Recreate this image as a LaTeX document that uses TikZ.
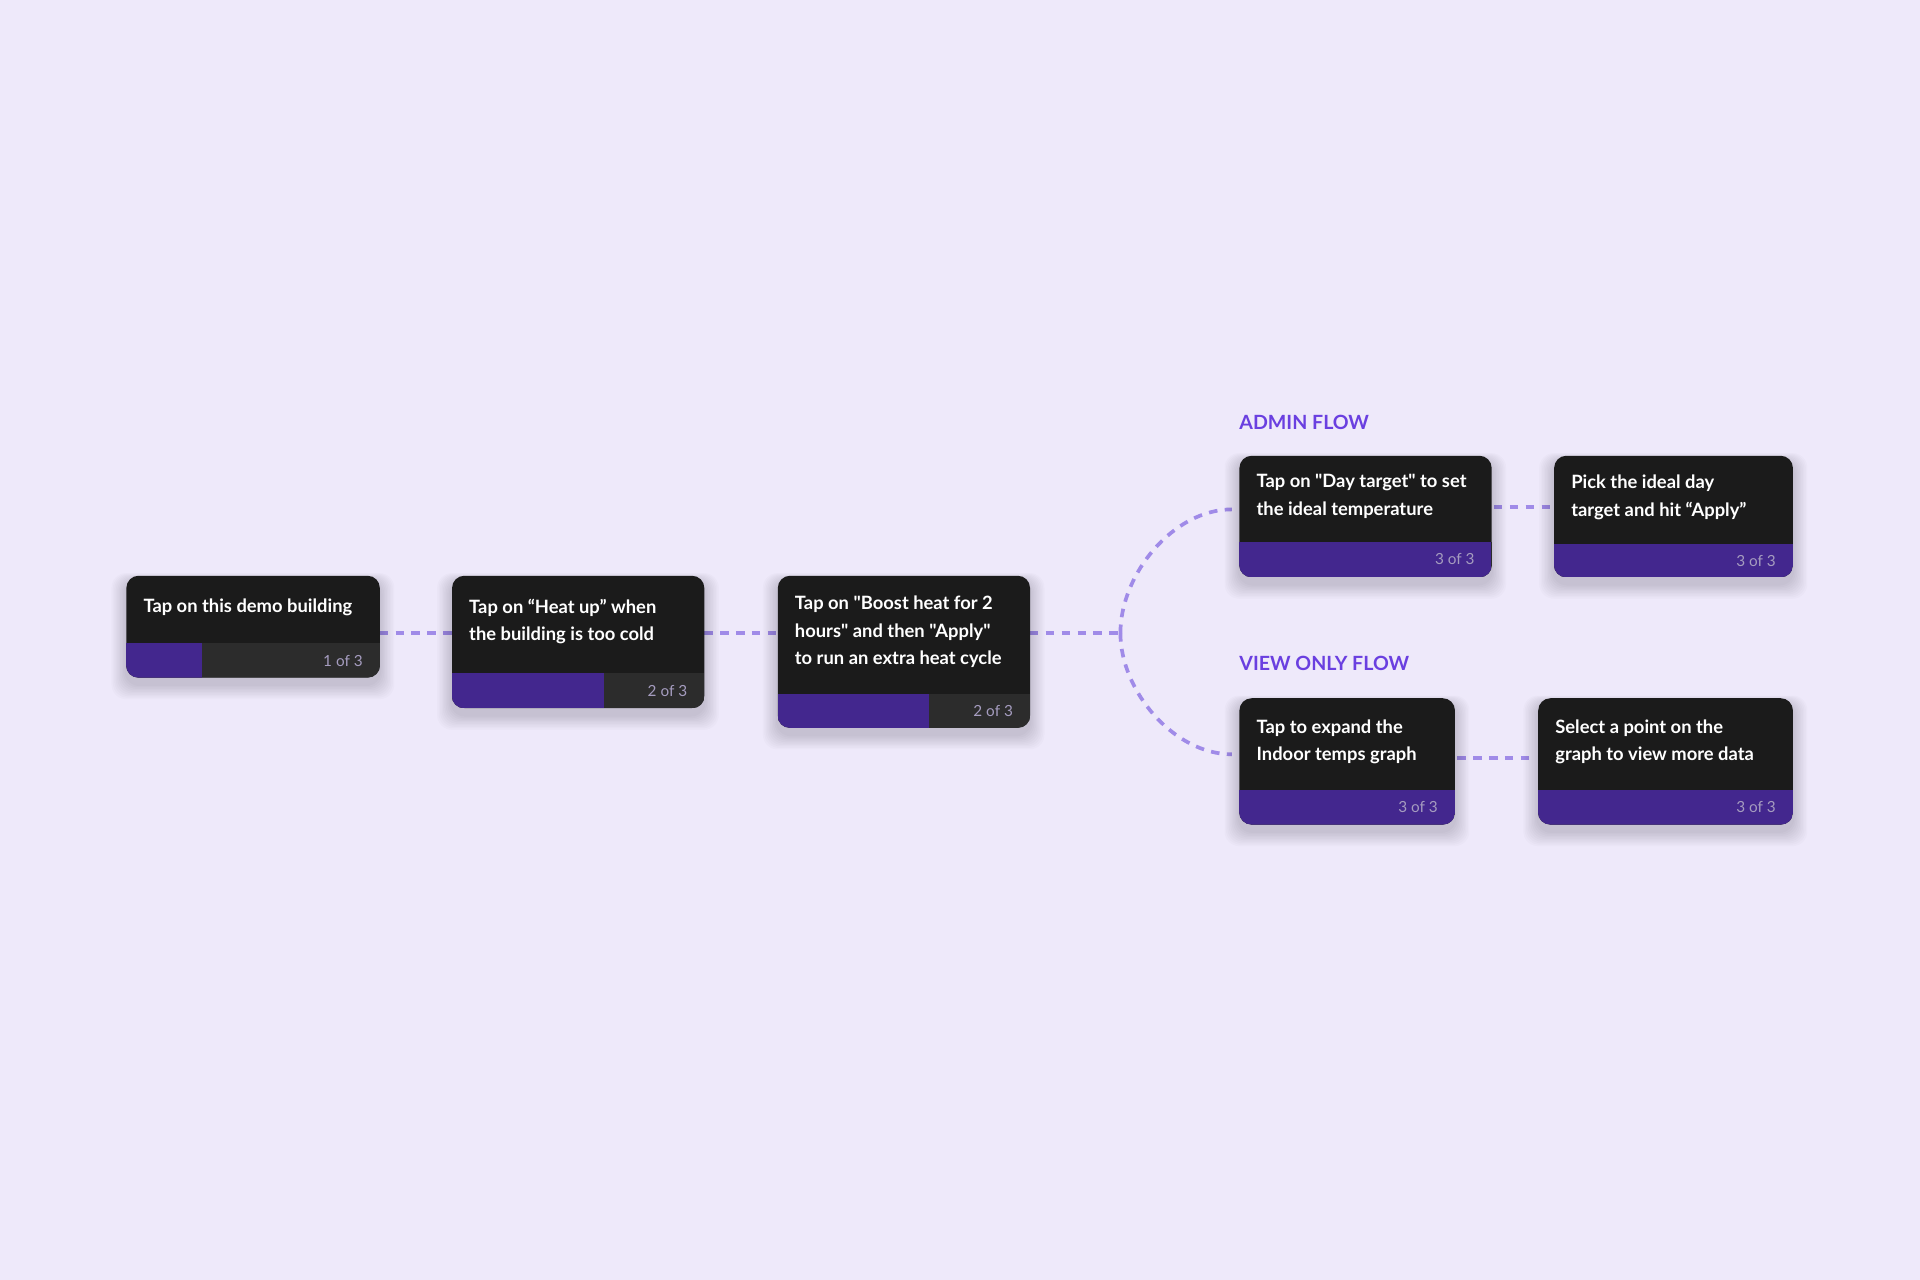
\documentclass[tikz,border=0pt]{standalone}
\usepackage{fontspec}
\setmainfont{Lato}[Ligatures=TeXOff]
\usetikzlibrary{calc}
\definecolor{bgc}{HTML}{EEE9FA}
\definecolor{cardc}{HTML}{1B1B1B}
\definecolor{barc}{HTML}{2C2C2C}
\definecolor{purc}{HTML}{43278E}
\definecolor{linkc}{HTML}{A08BE8}
\definecolor{headc}{HTML}{6A3FE0}
\definecolor{countc}{HTML}{A59CBF}
\tikzset{
  card/.style={fill=cardc, rounded corners=10pt, inner sep=0pt, anchor=north west},
  cardtext/.style={text=white, align=left, anchor=west, inner sep=0pt, font=\fontsize{15}{22.5}\selectfont\bfseries},
  count/.style={text=countc, anchor=east, inner sep=0pt, font=\fontsize{12.5}{14}\selectfont},
  link/.style={draw=linkc, line width=3pt, dash pattern=on 7pt off 6pt},
  flow/.style={text=headc, anchor=west, inner sep=0pt, font=\fontsize{16}{18}\selectfont\bfseries}
}
% name, x, y, width, height, bar height, purple width, text, count
\newcommand\card[9]{
  \foreach \i in {1,...,10}
    \fill[black, opacity=0.015, rounded corners=12pt]
      (#2-\i*1.2, #3+4-\i*0.6) rectangle (#2+#4+\i*1.2, #3+#5+6+\i*1.2);
  \node[card, minimum width=#4pt, minimum height=#5pt] (#1) at (#2,#3) {};
  \begin{scope}
    \clip[rounded corners=10pt] (#1.north west) rectangle (#1.south east);
    \fill[barc] (#1.south west) rectangle ([yshift=#6pt]#1.south east);
    \fill[purc] (#1.south west) rectangle ([xshift=#7pt, yshift=#6pt]#1.south west);
  \end{scope}
  \node[cardtext] (#1t) at ($(#1.north west)!0.5!([yshift=#6pt]#1.south west)+(14pt,2pt)$) {#8};
  \node[count] (#1n) at ([xshift=-14pt, yshift=#6pt/2]#1.south east) {#9};
}
\begin{document}
\begin{tikzpicture}[x=1pt, y=-1pt]
\fill[bgc] (0,0) rectangle (1568,1045);
\useasboundingbox (0,0) rectangle (1568,1045);
\coordinate (fork) at (915,517);
\node[flow] (admin) at (1012,345) {ADMIN FLOW};
\node[flow] (view) at (1012,542) {VIEW ONLY FLOW};
% links first, cards cover them
\draw[link] (310,517) -- (369,517);
\draw[link] (575,517) -- (635,517);
\draw[link] (841,517) -- (fork);
\draw[link] (fork) to[out=90, in=180, looseness=0.9] (1006,416);
\draw[link] (fork) to[out=-90, in=180, looseness=0.9] (1006,616);
\draw[link] (1220,414) -- (1266,414);
\draw[link] (1190,619) -- (1254,619);
\card{c1}{103}{470}{207}{83}{28}{62}{Tap on this demo building}{1 of 3}
\card{c2}{369}{470}{206}{108}{29}{124}{Tap on “Heat up” when\\the building is too cold}{2 of 3}
\card{c3}{635}{470}{206}{124}{28}{124}{Tap on "Boost heat for 2\\hours" and then "Apply"\\to run an extra heat cycle}{2 of 3}
\card{a1}{1012}{372}{206}{99}{29}{206}{Tap on "Day target" to set\\the ideal temperature}{3 of 3}
\card{a2}{1269}{372}{195}{99}{27}{195}{Pick the ideal day\\target and hit “Apply”}{3 of 3}
\card{v1}{1012}{570}{176}{103}{28}{176}{Tap to expand the\\Indoor temps graph}{3 of 3}
\card{v2}{1256}{570}{208}{103}{28}{208}{Select a point on the\\graph to view more data}{3 of 3}
\end{tikzpicture}
\end{document}
